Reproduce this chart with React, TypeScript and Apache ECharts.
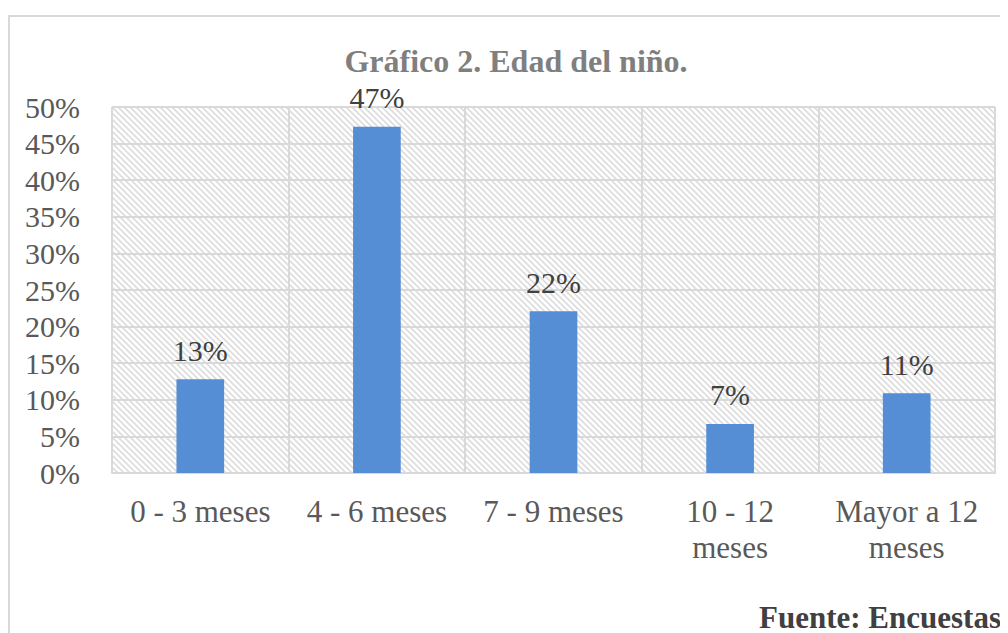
import React, { useEffect, useRef } from "react";
import * as echarts from "echarts";

const categories = ["0 - 3 meses", "4 - 6 meses", "7 - 9 meses", "10 - 12\nmeses", "Mayor a 12\nmeses"];
const values = [12.8, 47.3, 22.1, 6.7, 10.9];
const yTicks = [0, 5, 10, 15, 20, 25, 30, 35, 40, 45, 50];
const titleText = "Gráfico 2. Edad del niño.";
const sourceText = "Fuente: Encuestas";

const FONT = "'Liberation Serif', 'Times New Roman', serif";

function hatchPattern(): string {
  const c = document.createElement("canvas");
  c.width = 6;
  c.height = 6;
  const ctx = c.getContext("2d")!;
  ctx.fillStyle = "#ffffff";
  ctx.fillRect(0, 0, 6, 6);
  ctx.strokeStyle = "#dcdcdc";
  ctx.lineWidth = 1.6;
  for (const k of [-6, 0, 6]) {
    ctx.beginPath();
    ctx.moveTo(-2, -2 + k);
    ctx.lineTo(8, 8 + k);
    ctx.stroke();
  }
  return c.toDataURL();
}

export default function App() {
  const ref = useRef<HTMLDivElement>(null);
  useEffect(() => {
    if (!ref.current) return;
    const chart = echarts.init(ref.current, undefined, { renderer: "svg" });
    chart.setOption({
      animation: false,
      title: {
        text: titleText,
        left: 501,
        top: 23,
        textAlign: "center",
        textStyle: { fontFamily: FONT, fontSize: 32, fontWeight: "bold", color: "#7f7f7f" },
      },
      graphic: [
        {
          type: "text",
          right: 17,
          top: 585,
          style: { text: sourceText, font: `bold 31px ${FONT}`, fill: "#404040", textAlign: "right" },
        },
      ],
      grid: {
        left: 102,
        right: 23,
        top: 90,
        bottom: 172,
        show: true,
        borderWidth: 0,
        backgroundColor: { image: hatchPattern(), repeat: "repeat" },
      },
      xAxis: {
        type: "category",
        data: categories,
        axisLine: { show: true, lineStyle: { color: "#d9d9d9", width: 2 } },
        axisTick: { show: false },
        splitLine: { show: true, lineStyle: { color: "#d9d9d9", width: 2 } },
        axisLabel: {
          fontFamily: FONT,
          fontSize: 31,
          color: "#595959",
          margin: 20,
          lineHeight: 36,
          interval: 0,
        },
      },
      yAxis: {
        type: "value",
        min: 0,
        max: 50,
        interval: 5,
        axisLine: { show: false },
        axisTick: { show: false },
        splitLine: { show: true, lineStyle: { color: "#d9d9d9", width: 2 } },
        axisLabel: {
          fontFamily: FONT,
          fontSize: 30,
          color: "#595959",
          margin: 32,
          formatter: (v: number) => (yTicks.includes(v) ? `${v}%` : ""),
        },
      },
      series: [
        {
          type: "bar",
          data: values,
          barWidth: "27%",
          itemStyle: { color: "#558ed5" },
          label: {
            show: true,
            position: "top",
            distance: 14,
            fontFamily: FONT,
            fontSize: 30,
            color: "#404040",
            formatter: (p: any) => `${Math.round(p.value)}%`,
          },
        },
      ],
    });
    return () => chart.dispose();
  }, []);
  return (
    <div
      style={{
        marginTop: 7,
        width: 1008,
        height: 628,
        border: "2px solid #d9d9d9",
      }}
    >
      <div ref={ref} style={{ width: 1008, height: 628 }} />
    </div>
  );
}
